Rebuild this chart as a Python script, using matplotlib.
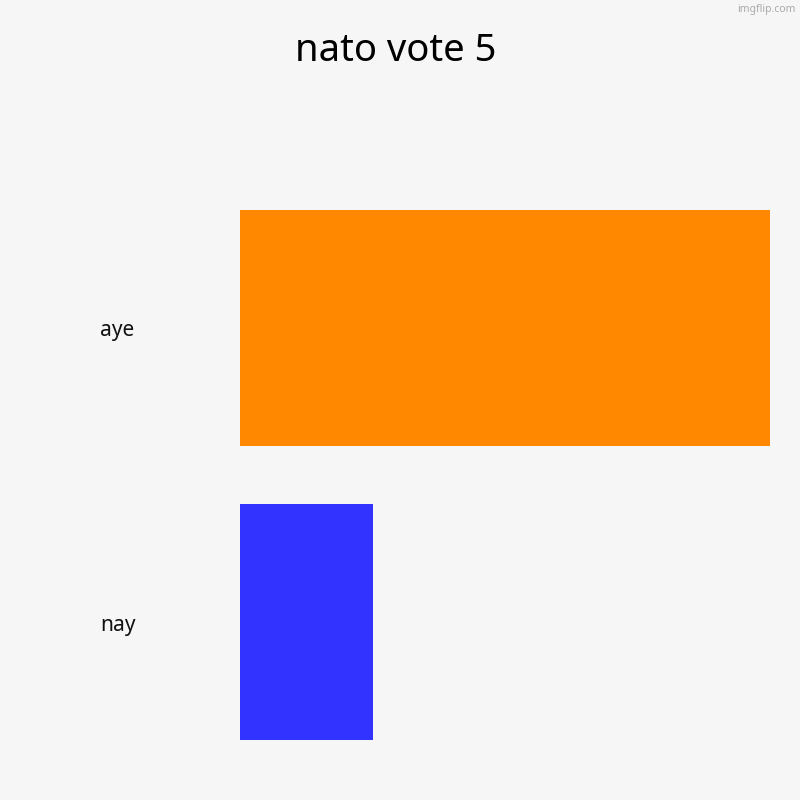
import matplotlib
matplotlib.use("Agg")
import matplotlib.pyplot as plt
import matplotlib.transforms as mtransforms

# ── data ──────────────────────────────────────────────────────────────────────
title = "nato vote 5"
categories = ["aye", "nay"]
votes = [4, 1]
bar_colors = ["#ff8800", "#3333ff"]

BG = "#f6f6f6"
plt.rcParams["font.family"] = ["Noto Sans", "DejaVu Sans"]

fig = plt.figure(figsize=(8, 8), dpi=100, facecolor=BG)
ax = fig.add_axes([0.30, 0.075, 0.6625, 0.6625])
ax.set_facecolor(BG)

pos = list(range(len(categories)))
ax.barh(pos, votes, height=0.8, color=bar_colors)
ax.set_xlim(0, max(votes))
ax.set_ylim(len(categories) - 0.6, -0.4)
ax.axis("off")

# category labels sit left-aligned in the margin, a touch below bar centre
trans = mtransforms.blended_transform_factory(fig.transFigure, ax.transData)
for p, name in zip(pos, categories):
    ax.text(0.125, p + 0.01, name, transform=trans, ha="left", va="center",
            fontsize=15, color="#111111")

fig.text(0.494, 0.936, title, ha="center", va="center", fontsize=27.5,
         color="#000000")
fig.text(0.995, 0.988, "imgflip.com", ha="right", va="center", fontsize=7.5,
         color="#aaaaaa")

fig.savefig("out.png", dpi=100, facecolor=BG)
